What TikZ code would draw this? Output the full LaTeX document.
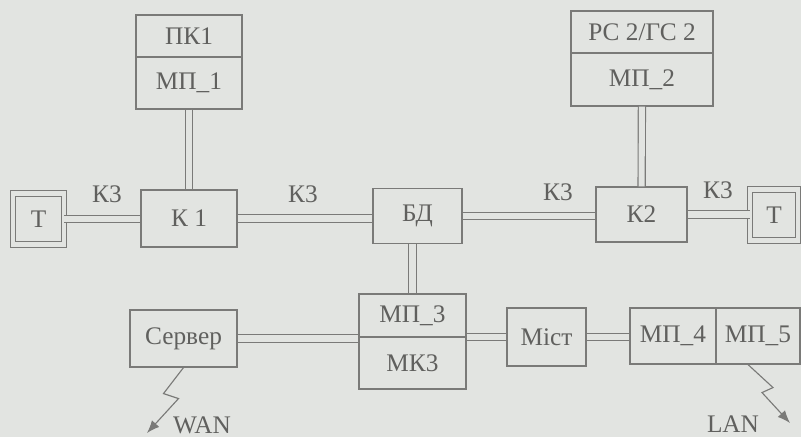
\documentclass[tikz,border=0pt]{standalone}
\usepackage{fontspec}
\setmainfont{Liberation Serif}
\usetikzlibrary{arrows.meta,calc}
\definecolor{bg}{RGB}{226,228,225}
\definecolor{lc}{RGB}{122,122,120}
\definecolor{tc}{RGB}{96,96,94}
\tikzset{
  >=Latex,
  sz/.style 2 args={minimum width=#1*0.025cm,minimum height=#2*0.025cm},
  box/.style={draw=lc,line width=0.8pt,inner sep=0pt,text=tc,font=\fontsize{18}{20}\selectfont},
  term/.style={box,double=bg,double distance=3pt,line width=0.7pt},
  link/.style={draw=lc,double=bg,double distance=4.3pt,line width=0.8pt},
  zap/.style={draw=lc,line width=0.8pt,->,>={Latex[length=9pt,width=7pt]}},
  lbl/.style={text=tc,inner sep=0pt,font=\fontsize{18}{20}\selectfont}
}
\begin{document}
\begin{tikzpicture}[x=0.025cm,y=-0.025cm]
\useasboundingbox[fill=bg](0,0)rectangle(801,437);
% top row
\node[box,sz={106}{42}](pk1)at(189,36){ПК1};
\node[box,sz={106}{52}](mp1)at(189,83){МП\_1};
\node[box,sz={142}{42}](rs2)at(642,32){РС 2/ГС 2};
\node[box,sz={142}{53}](mp2)at(642,79.5){МП\_2};
% middle row
\node[term,sz={51}{51}](tl)at(38.5,219){Т};
\node[box,sz={96}{57}](k1)at(189,218.5){К 1};
\node[box,sz={89}{55}](bd)at(417.5,216){БД};
\node[box,sz={91}{55}](k2)at(641.5,214.5){К2};
\node[term,sz={48}{51}](tr)at(774,215){Т};
% bottom row
\node[box,sz={107}{57}](srv)at(183.5,338.5){Сервер};
\node[box,sz={107}{43}](mp3)at(412.5,315.5){МП\_3};
\node[box,sz={107}{52}](mk3)at(412.5,363){МК3};
\node[box,sz={79}{58}](most)at(546.5,337){Міст};
\node[box,sz={86}{56}](mp4)at(673,336){МП\_4};
\node[box,sz={84}{56}](mp5)at(758,336){МП\_5};
\coordinate(wan)at(147,433);
\coordinate(lan)at(790,423);
% labels
\node[lbl](kz1)at(107,194){К3};
\node[lbl](kz2)at(303,194){К3};
\node[lbl](kz3)at(558,192){К3};
\node[lbl](kz4)at(718,190){К3};
\node[lbl](wl)at(202,425){WAN};
\node[lbl](ll)at(733,424){LAN};
% links
\draw[link](mp1)--(k1);
\draw[link](mp2)--(k2);
\draw[link](tl.east)--(tl.east-|k1.west);
\draw[link](k1.east)--(k1.east-|bd.west);
\draw[link](bd.east)--(bd.east-|k2.west);
\draw[link](k2.east)--(k2.east-|tr.west);
\draw[link](mp3.north|-bd.south)--(mp3.north);
\draw[link](srv.east)--(srv.east-|mp3.west);
\draw[link](most.west-|mp3.east)--(most.west);
\draw[link](most.east)--(most.east-|mp4.west);
\draw[zap](srv.south)--++(-20,26)--++(15,5)--(wan);
\draw[zap](mp5.south)++(-10,0)--++(25,23)--++(-11,5)--(lan);
\end{tikzpicture}
\end{document}
